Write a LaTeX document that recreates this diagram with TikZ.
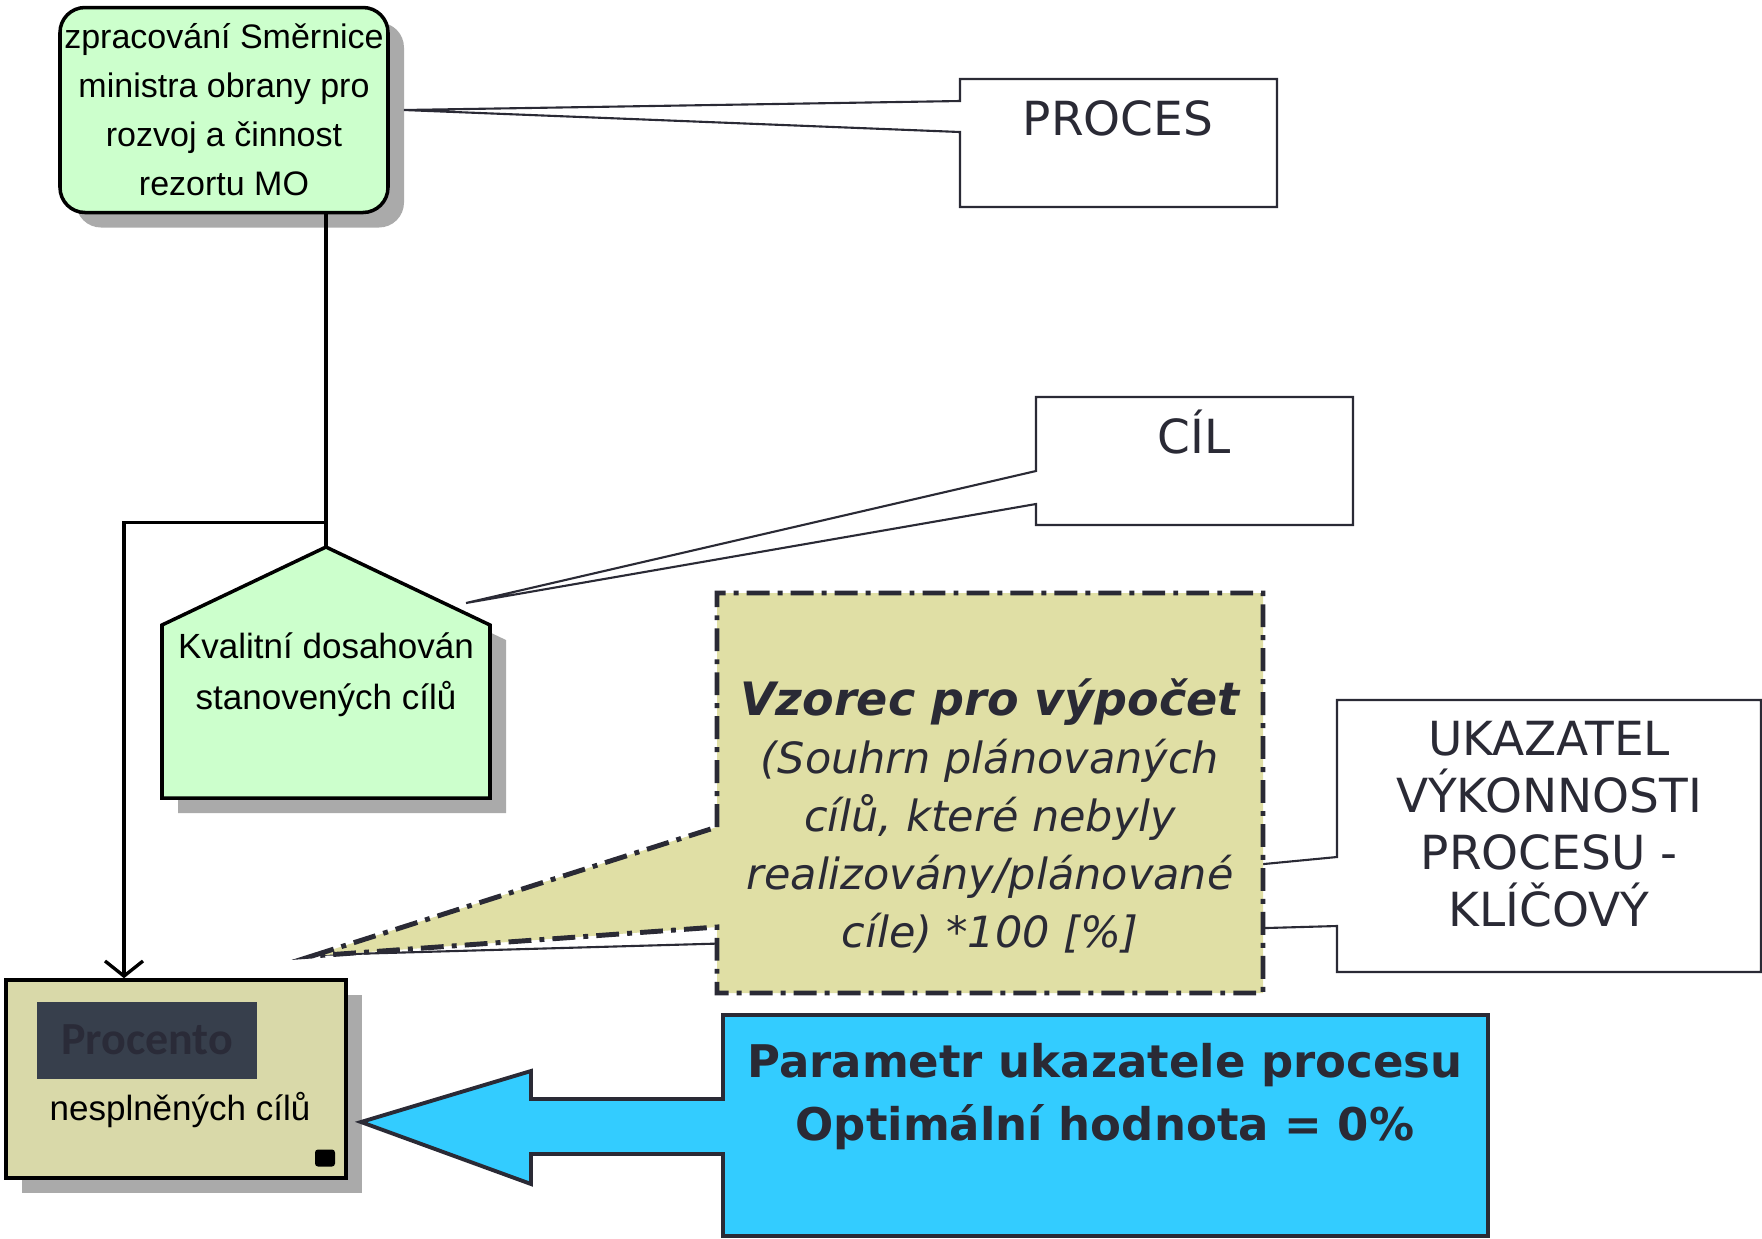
\documentclass[tikz,border=0pt]{standalone}
\usepackage{fontspec}
\setmainfont{Liberation Sans}
\newfontfamily\comic{DejaVu Sans}
\newfontfamily\calib{Carlito}
\usetikzlibrary{arrows.meta,shadows}
\newdimen\px \px=0.01cm
\definecolor{zelena}{HTML}{CCFFCC}
\definecolor{khaki}{HTML}{D9D9A9}
\definecolor{vzorecfill}{HTML}{E0DFA5}
\definecolor{modra}{HTML}{33CCFF}
\definecolor{tmava}{HTML}{2A2A35}
\definecolor{stin}{HTML}{AAAAAA}
\definecolor{bridlice}{HTML}{373F4C}
\definecolor{procfont}{HTML}{2A2B38}
\tikzset{
  stinek/.style={drop shadow={shadow xshift=16\px, shadow yshift=-15\px, fill=stin, opacity=1}},
  callbox/.style={draw=tmava, line width=0.6pt, fill=white},
  comictext/.style={font=\comic\fontsize{47\px}{57\px}\selectfont, text=tmava, align=center},
  arialtext/.style={font=\fontsize{34\px}{49\px}\selectfont, align=center},
  flow/.style={line width=0.95pt, -{Straight Barb[length=4.3pt,width=10.8pt]}}
}
\begin{document}
\begin{tikzpicture}[x=0.01cm, y=-0.01cm]
			\useasboundingbox (0,0) rectangle (1762,1238);
			%
			\node[draw, line width=1pt, fill=zelena, stinek, rounded corners=25\px, minimum width=328\px, minimum height=205\px, arialtext, inner xsep=0pt] (smer) at (224,110) {zpracování Směrnice\\ministra obrany pro\\rozvoj a činnost\\rezortu MO};
			\coordinate (apex) at (326,547);
			\filldraw[line width=1pt, fill=zelena, stinek] (apex) -- (490,625) -- (490,798) -- (162,798) -- (162,625) -- cycle;
			\node[arialtext, font=\fontsize{35\px}{51\px}\selectfont] (kval) at (326,675) {Kvalitní dosahován\\stanovených cílů};
			%
			\node[draw, line width=1pt, fill=khaki, stinek, minimum width=340\px, minimum height=198\px] (proc) at (176,1079) {};
			\node[fill=bridlice, minimum width=220\px, minimum height=77\px, font=\calib\bfseries\fontsize{46\px}{50\px}\selectfont, text=procfont] (procento) at (147,1040) {Procento};
			\node[font=\fontsize{35\px}{40\px}\selectfont] (nespl) at (180,1110) {nesplněných cílů};
			\node[fill=black, rounded corners=3\px, minimum width=20\px, minimum height=17\px, inner sep=0pt] (ikona) at (325,1158) {};
			%
			\draw[line width=0.95pt] (smer.south -| apex) -- (apex);
			\draw[flow] (smer.south -| apex) ++(0,308) -| ([xshift=-52\px]proc.north);
			%
			\coordinate (tipU) at (315,955);
			\filldraw[callbox] (1337,857) -- (1337,700) -- (1761,700) -- (1761,972) -- (1337,972) -- (1337,926) -- (tipU) -- cycle;
			\node[comictext] (ukaz) at (1549,824) {UKAZATEL\\VÝKONNOSTI\\PROCESU -\\KLÍČOVÝ};
			%
			\coordinate (tipV) at (312,956);
			\filldraw[fill=vzorecfill, draw=tmava, line width=1.4pt, dash pattern=on 6.5pt off 2.3pt on 1.4pt off 2.3pt] (717,827) -- (717,593) -- (1263,593) -- (1263,993) -- (717,993) -- (717,927) -- (tipV) -- cycle;
			\node[align=center, text=tmava, font=\comic\itshape\fontsize{43\px}{58\px}\selectfont] (vzorec) at (990,816) {{\bfseries\fontsize{46\px}{58\px}\selectfont Vzorec pro výpočet}\\(Souhrn plánovaných\\cílů, které nebyly\\realizovány/plánované\\cíle) *100 [\%]};
			%
			\filldraw[fill=modra, draw=tmava, line width=1.1pt] (723,1099) -- (723,1015) -- (1488,1015) -- (1488,1236) -- (723,1236) -- (723,1154) -- (531,1154) -- (531,1184) -- (361,1122) -- (531,1071) -- (531,1099) -- cycle;
			\node[align=center, text=tmava, font=\comic\bfseries\fontsize{45\px}{63\px}\selectfont] (param) at (1105,1097) {Parametr ukazatele procesu\\Optimální hodnota = 0\%};
			%
			\coordinate (tipPr) at (404,110);
			\filldraw[callbox] (960,101) -- (960,79) -- (1277,79) -- (1277,207) -- (960,207) -- (960,132) -- (tipPr) -- cycle;
			\node[comictext] (proces) at (1118,118) {PROCES};
			\coordinate (tipC) at (466,603);
			\filldraw[callbox] (1036,471) -- (1036,397) -- (1353,397) -- (1353,525) -- (1036,525) -- (1036,504) -- (tipC) -- cycle;
			\node[comictext] (cil) at (1194,432) {CÍL};
		\end{tikzpicture}
\end{document}
